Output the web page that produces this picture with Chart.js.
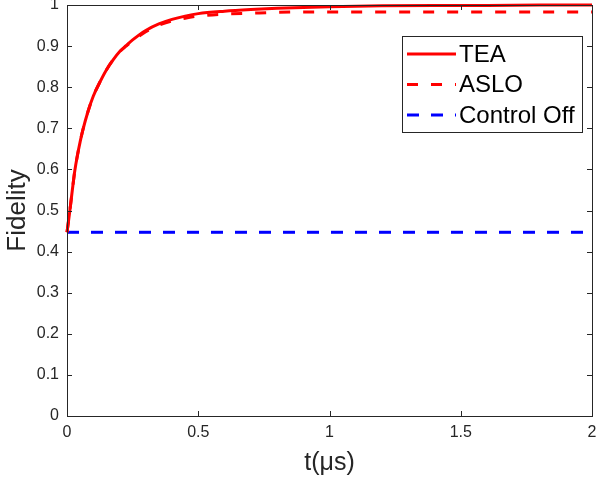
<!DOCTYPE html>
<html>
<head>
<meta charset="utf-8">
<title>Fidelity vs time</title>
<script src="https://cdn.jsdelivr.net/npm/chart.js@4.4.1/dist/chart.umd.min.js"></script>
<style>
  html, body { margin: 0; padding: 0; background: #fff; }
  canvas { display: block; }
</style>
</head>
<body>
<canvas id="fidelityChart" width="597" height="478"></canvas>
<script>
// time axis (microseconds) and fidelity for each control scheme
const times = [0, 0.01, 0.02, 0.03, 0.04, 0.05, 0.06, 0.08, 0.1, 0.125, 0.15, 0.175, 0.2, 0.225, 0.25,
  0.3, 0.35, 0.4, 0.45, 0.5, 0.6, 0.7, 0.8, 0.9, 1.0, 1.2, 1.4, 1.6, 1.8, 2.0];
const teaFidelity = [0.447, 0.495, 0.548, 0.598, 0.635, 0.667, 0.695, 0.741, 0.778, 0.812, 0.842, 0.866, 0.886, 0.901, 0.915,
  0.938, 0.954, 0.965, 0.973, 0.979, 0.985, 0.989, 0.992, 0.994, 0.996, 0.998, 0.999, 0.999, 1.0, 1.0];
const asloFidelity = [0.447, 0.495, 0.548, 0.598, 0.635, 0.667, 0.695, 0.741, 0.778, 0.812, 0.842, 0.866, 0.886, 0.900, 0.913,
  0.935, 0.951, 0.961, 0.968, 0.973, 0.978, 0.980, 0.982, 0.983, 0.983, 0.983, 0.983, 0.983, 0.983, 0.983];
const controlOffFidelity = [0.447, 0.447];
const controlOffTimes = [0, 2];

const xTicks = [0, 0.5, 1, 1.5, 2];
const yTicks = [0, 0.1, 0.2, 0.3, 0.4, 0.5, 0.6, 0.7, 0.8, 0.9, 1];

const axisColor = '#262626';
const fontFamily = '"Liberation Sans", Arial, sans-serif';

function toPoints(xs, ys) {
  return xs.map((x, i) => ({ x, y: ys[i] }));
}

// box around the axes with inward tick marks on all four sides
const axesBox = {
  id: 'axesBox',
  afterDatasetsDraw(chart) {
    const { ctx, chartArea: area, scales } = chart;
    ctx.save();
    ctx.strokeStyle = axisColor;
    ctx.lineWidth = 1;
    ctx.beginPath();
    xTicks.forEach(v => {
      const px = Math.round(scales.x.getPixelForValue(v)) + 0.5;
      ctx.moveTo(px, area.bottom);
      ctx.lineTo(px, area.bottom - 5);
      ctx.moveTo(px, area.top);
      ctx.lineTo(px, area.top + 5);
    });
    yTicks.forEach(v => {
      const py = Math.round(scales.y.getPixelForValue(v)) + 0.5;
      ctx.moveTo(area.left, py);
      ctx.lineTo(area.left + 5, py);
      ctx.moveTo(area.right, py);
      ctx.lineTo(area.right - 5, py);
    });
    ctx.stroke();
    ctx.strokeRect(Math.round(area.left) + 0.5, Math.round(area.top) + 0.5,
      Math.round(area.right - area.left), Math.round(area.bottom - area.top));
    ctx.restore();
  },
};

// legend box in the upper right of the plot
const boxLegend = {
  id: 'boxLegend',
  afterDraw(chart) {
    const { ctx } = chart;
    const left = 402, top = 36, width = 180, height = 96;
    ctx.save();
    ctx.fillStyle = '#fff';
    ctx.fillRect(left, top, width, height);
    ctx.strokeStyle = axisColor;
    ctx.lineWidth = 1;
    ctx.setLineDash([]);
    ctx.strokeRect(left + 0.5, top + 0.5, width, height);
    ctx.font = '24px ' + fontFamily;
    ctx.textBaseline = 'middle';
    chart.data.datasets.forEach((ds, i) => {
      const y = top + 18 + i * 30.5;
      ctx.strokeStyle = ds.borderColor;
      ctx.lineWidth = ds.borderWidth;
      ctx.setLineDash(ds.borderDash || []);
      ctx.beginPath();
      ctx.moveTo(407, y);
      ctx.lineTo(456, y);
      ctx.stroke();
      ctx.fillStyle = '#000';
      ctx.fillText(ds.label, 459, y + 1);
    });
    ctx.restore();
  },
};

const ctx = document.getElementById('fidelityChart').getContext('2d');
new Chart(ctx, {
  type: 'line',
  data: {
    datasets: [
      {
        label: 'TEA',
        data: toPoints(times, teaFidelity),
        borderColor: '#ff0000',
        borderWidth: 3,
        pointRadius: 0,
        cubicInterpolationMode: 'monotone',
        fill: false,
      },
      {
        label: 'ASLO',
        data: toPoints(times, asloFidelity),
        borderColor: '#ff0000',
        borderWidth: 3,
        borderDash: [11, 13],
        pointRadius: 0,
        cubicInterpolationMode: 'monotone',
        fill: false,
      },
      {
        label: 'Control Off',
        data: toPoints(controlOffTimes, controlOffFidelity),
        borderColor: '#0000ff',
        borderWidth: 3,
        borderDash: [12, 12],
        pointRadius: 0,
        fill: false,
      },
    ],
  },
  options: {
    responsive: false,
    animation: false,
    clip: false,
    layout: { padding: { left: 0, right: 5, top: 5, bottom: 0 } },
    plugins: {
      legend: { display: false },
      tooltip: { enabled: false },
    },
    scales: {
      x: {
        type: 'linear',
        min: 0,
        max: 2,
        afterFit: scale => {
          scale.height = 62;
          scale.paddingLeft = 0;
          scale.paddingRight = 0;
        },
        afterBuildTicks: scale => { scale.ticks = xTicks.map(value => ({ value })); },
        grid: { display: false, drawTicks: false },
        border: { display: false },
        ticks: {
          color: axisColor,
          padding: 7,
          maxRotation: 0,
          callback: value => String(value),
          font: { family: fontFamily, size: 16 },
        },
        title: {
          display: true,
          text: 't(μs)',
          color: axisColor,
          padding: { top: 1, bottom: 0 },
          font: { family: fontFamily, size: 25, lineHeight: 1.2 },
        },
      },
      y: {
        type: 'linear',
        min: 0,
        max: 1,
        afterFit: scale => {
          scale.width = 67;
          scale.paddingTop = 0;
          scale.paddingBottom = 0;
        },
        afterBuildTicks: scale => { scale.ticks = yTicks.map(value => ({ value })); },
        grid: { display: false, drawTicks: false },
        border: { display: false },
        ticks: {
          color: axisColor,
          padding: 8,
          callback: value => String(value),
          font: { family: fontFamily, size: 16 },
        },
        title: {
          display: true,
          text: 'Fidelity',
          color: axisColor,
          padding: { top: 2, bottom: 0 },
          font: { family: fontFamily, size: 26, lineHeight: 1.2 },
        },
      },
    },
  },
  plugins: [axesBox, boxLegend],
});
</script>
</body>
</html>
